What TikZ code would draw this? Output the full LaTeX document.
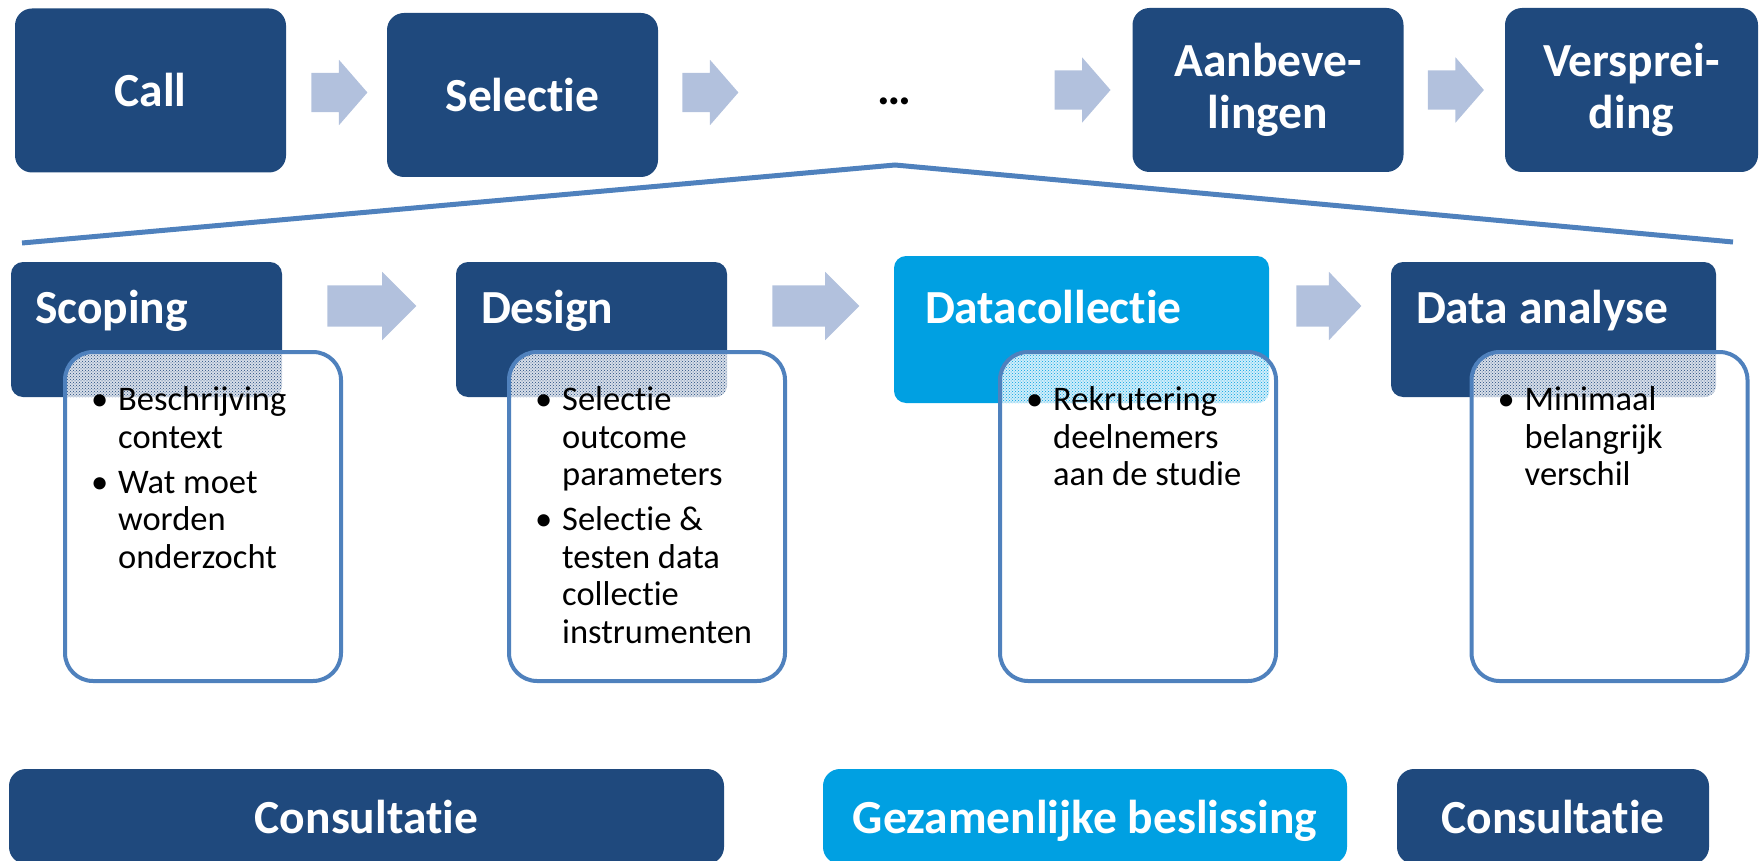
\documentclass[tikz,border=0pt]{standalone}
\usepackage{fontspec}
\setmainfont{Carlito}[Ligatures=NoCommon]
\usetikzlibrary{shapes.arrows,patterns,calc}

\definecolor{navy}{RGB}{31,73,125}
\definecolor{skyblue}{RGB}{0,160,226}
\definecolor{arrowblue}{RGB}{178,193,221}
\definecolor{accent}{RGB}{79,129,189}

\newcommand{\bul}{\llap{\textbullet\hspace{10pt}}}

\begin{document}
\begin{tikzpicture}[x=1pt,y=-1pt]
    % `stepbox' is used for the top row, `bottombox' for the bottom row.
    % `headbox' is the dark heading box, `notebox' the white box below it.
    % `blockarrow' is used for the light arrows between the boxes.
    \tikzstyle{stepbox} = [fill=navy,text=white,rounded corners=17pt,inner sep=0pt,align=center,
        font=\fontsize{47.5pt}{52pt}\selectfont\bfseries,minimum width=271pt,minimum height=164pt]
    \tikzstyle{headbox} = [fill=navy,rounded corners=12pt,minimum width=271pt,minimum height=135pt]
    \tikzstyle{headtext} = [text=white,anchor=base west,inner sep=0pt,
        font=\fontsize{47.5pt}{52pt}\selectfont\bfseries]
    \tikzstyle{blockarrow} = [single arrow,fill=arrowblue,inner xsep=0pt,anchor=tail,
        single arrow head indent=0pt]
    \tikzstyle{smallarrow} = [blockarrow,minimum height=56pt,minimum width=65pt,inner ysep=19.5pt,
        single arrow head extend=13pt,single arrow tip angle=98]
    \tikzstyle{bigarrow} = [blockarrow,minimum width=68pt,inner ysep=20.5pt,
        single arrow head extend=13.5pt,single arrow tip angle=90]
    \tikzstyle{listtext} = [anchor=north west,inner sep=0pt,align=left,
        font=\fontsize{34.5pt}{37.5pt}\selectfont]
    \tikzstyle{bottombox} = [fill=navy,text=white,rounded corners=17pt,inner sep=0pt,
        text height=33pt,text depth=0pt,minimum height=95pt,
        font=\fontsize{47.5pt}{52pt}\selectfont\bfseries]
    \tikzset{notebox/.style 2 args={draw=accent,line width=4pt,fill=white,outer sep=0pt,
        rounded corners=28pt,minimum width=276pt,minimum height=329pt,
        path picture={
          \fill[#2!18,rounded corners=12pt] (#1.south west) rectangle (#1.north east);
          \fill[pattern=crosshatch dots,pattern color=#2,rounded corners=12pt]
              (#1.south west) rectangle (#1.north east);
        }}}
    \useasboundingbox (0,0) rectangle (1760,861);
    %
    % Top row.
    \node[stepbox] (call) at (150.5,90.5) {Call};
    \node[stepbox] (sel) at (522.5,95) {Selectie};
    \node[anchor=base,font=\fontsize{47.5pt}{52pt}\selectfont\bfseries] (dots) at (894,105) {…};
    \node[stepbox] (aanb) at (1268,90) {Aanbeve-\\lingen};
    \node[stepbox,minimum width=253pt] (versp) at (1631.5,90) {Versprei-\\ding};
    \node[smallarrow] (a1) at ($(call.east)+(25,2)$) {};
    \node[smallarrow] (a2) at ($(sel.east)+(24,-2.5)$) {};
    \node[smallarrow] (a3) at ($(aanb.west)+(-78,0)$) {};
    \node[smallarrow] (a4) at ($(aanb.east)+(24,0)$) {};
    %
    % Fan from the dots down to the second row.
    \coordinate (apex) at (895,165);
    \coordinate (fanL) at (22,243);
    \coordinate (fanR) at (1733,242);
    \draw[accent,line width=5pt] (fanL) -- (apex) -- (fanR);
    %
    % Second row: heading boxes.
    \node[headbox] (scoping) at (146.5,329.5) {};
    \node[headbox] (design) at (591.5,329.5) {};
    \node[headbox,fill=skyblue,minimum width=375pt,minimum height=147pt] (collect) at (1081.5,329.5) {};
    \node[headbox,minimum width=325pt] (analyse) at (1553.5,329.5) {};
    \node[headtext] (scopinglabel) at ($(scoping.north west)+(24,62)$) {Scoping};
    \node[headtext] (designlabel) at ($(design.north west)+(25,62)$) {Design};
    \node[headtext] (collectlabel) at ($(collect.north west)+(31,68)$) {Datacollectie};
    \node[headtext] (analyselabel) at ($(analyse.north west)+(25,62)$) {Data analyse};
    \node[bigarrow,minimum height=89pt] (b1) at ($(scoping.east)+(45,-23.5)$) {};
    \node[bigarrow,minimum height=87pt] (b2) at ($(design.east)+(45,-23.5)$) {};
    \node[bigarrow,minimum height=65pt,single arrow tip angle=93] (b3)
        at ($(collect.east)+(27,-23.5)$) {};
    %
    % Second row: white boxes with the bullets.
    \node[notebox={scoping}{navy}] (scopingnote) at (203,516.5) {};
    \node[notebox={design}{navy}] (designnote) at (647,516.5) {};
    \node[notebox={collect}{skyblue}] (collectnote) at (1138,516.5) {};
    \node[notebox={analyse}{navy}] (analysenote) at (1609.5,516.5) {};
    \node[listtext] (scopinglist) at ($(scopingnote.north west)+(53,34.5)$)
        {\bul Beschrijving\\context\\[7.5pt]\bul Wat moet\\worden\\onderzocht};
    \node[listtext] (designlist) at ($(designnote.north west)+(53,34.5)$)
        {\bul Selectie\\outcome\\parameters\\[7.5pt]\bul Selectie \&\\testen data\\collectie\\instrumenten};
    \node[listtext] (collectlist) at ($(collectnote.north west)+(53,34.5)$)
        {\bul Rekrutering\\deelnemers\\aan de studie};
    \node[listtext] (analyselist) at ($(analysenote.north west)+(53,34.5)$)
        {\bul Minimaal\\belangrijk\\verschil};
    %
    % Bottom row.
    \node[bottombox,minimum width=715pt] (consult) at (366.5,816.5) {Consultatie};
    \node[bottombox,fill=skyblue,minimum width=524pt] (gezam) at (1085,816.5) {Gezamenlijke beslissing};
    \node[bottombox,minimum width=312pt] (consultb) at (1553,816.5) {Consultatie};
\end{tikzpicture}
\end{document}
